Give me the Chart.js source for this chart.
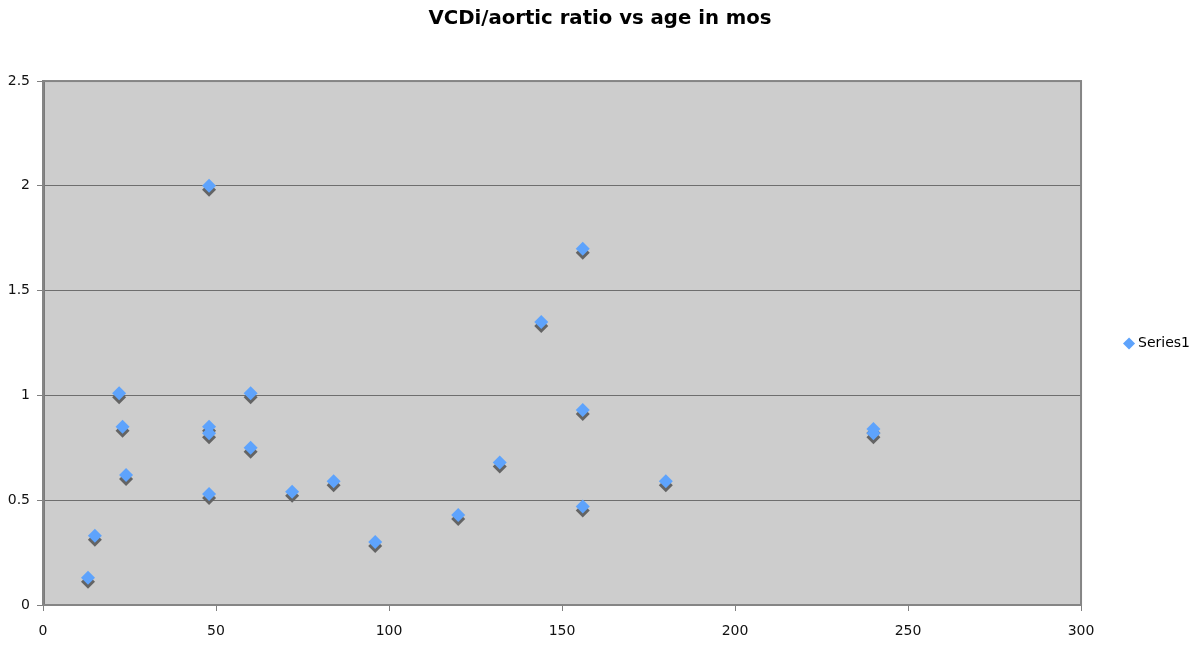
<!DOCTYPE html>
<html>
<head>
<meta charset="utf-8">
<script src="https://cdn.jsdelivr.net/npm/chart.js@4.4.0/dist/chart.umd.min.js"></script>
<style>
  html, body { margin: 0; padding: 0; background: #ffffff; }
  #wrap { width: 1200px; height: 645px; }
</style>
</head>
<body>
<div id="wrap"><canvas id="c" width="1200" height="645"></canvas></div>
<script>
const chartTitle = 'VCDi/aortic ratio vs age in mos';
const seriesName = 'Series1';
const ageMonths = [13, 15, 22, 23, 24, 48, 48, 48, 48, 60, 60, 72, 84, 96, 120, 132, 144, 156, 156, 156, 180, 240, 240];
const vcdiRatio = [0.13, 0.33, 1.01, 0.85, 0.62, 2.0, 0.85, 0.82, 0.53, 1.01, 0.75, 0.54, 0.59, 0.30, 0.43, 0.68, 1.35, 1.70, 0.93, 0.47, 0.59, 0.84, 0.82];
const xTickRange = [0, 300, 50];
const yTickRange = [0, 2.5, 0.5];

const points = ageMonths.map((a, i) => ({ x: a, y: vcdiRatio[i] }));

const plotArea = {
  id: 'plotArea',
  beforeDraw(chart) {
    const { ctx, chartArea: a } = chart;
    ctx.save();
    ctx.fillStyle = '#cdcdcd';
    ctx.fillRect(a.left, a.top, a.right - a.left, a.bottom - a.top);
    ctx.restore();
  },
  beforeDatasetsDraw(chart) {
    const { ctx, chartArea: a } = chart;
    ctx.save();
    ctx.strokeStyle = '#858585';
    ctx.lineWidth = 2;
    ctx.strokeRect(a.left, a.top, a.right - a.left, a.bottom - a.top);
    ctx.restore();
  }
};

const shadow = {
  id: 'markerShadow',
  beforeDatasetDraw(chart) {
    const ctx = chart.ctx;
    ctx.save();
    ctx.shadowColor = 'rgba(100,100,100,1)';
    ctx.shadowOffsetX = 0;
    ctx.shadowOffsetY = 4;
    ctx.shadowBlur = 0;
  },
  afterDatasetDraw(chart) {
    chart.ctx.restore();
  }
};

const tickFont = { family: '"DejaVu Sans", Verdana, sans-serif', size: 14 };

new Chart(document.getElementById('c'), {
  type: 'scatter',
  data: {
    datasets: [{
      label: seriesName,
      data: points,
      pointStyle: 'rectRot',
      pointRadius: 7,
      pointHoverRadius: 7,
      backgroundColor: '#5ea3fc',
      borderColor: '#5ea3fc',
      borderWidth: 0
    }]
  },
  options: {
    responsive: false,
    animation: false,
    layout: { padding: 0 },
    scales: {
      x: {
        type: 'linear',
        min: xTickRange[0], max: xTickRange[1],
        ticks: { stepSize: xTickRange[2], color: '#111', font: tickFont, padding: 12, maxRotation: 0 },
        grid: { drawOnChartArea: false, drawTicks: true, tickLength: 6, tickColor: '#808080', tickWidth: 1 },
        border: { display: true, color: '#808080', width: 2 },
        afterFit(s) { s.height = 40; }
      },
      y: {
        type: 'linear',
        min: yTickRange[0], max: yTickRange[1],
        ticks: { stepSize: yTickRange[2], color: '#111', font: tickFont, padding: 7, callback: (v) => String(v) },
        grid: { color: '#6e6e6e', lineWidth: 1, drawTicks: true, tickLength: 6, tickColor: '#808080' },
        border: { display: true, color: '#7a7a7a', width: 3 },
        afterFit(s) { s.width = 43; }
      }
    },
    plugins: {
      title: {
        display: true,
        text: chartTitle,
        color: '#000',
        font: { family: '"DejaVu Sans", Verdana, sans-serif', size: 19.7, weight: 'bold' },
        padding: { top: 7, bottom: 50.4 }
      },
      legend: {
        display: true,
        position: 'right',
        title: {
          display: true,
          text: ' ',
          font: { size: 10 },
          padding: { top: 15, bottom: 15 }
        },
        labels: {
          usePointStyle: true,
          pointStyle: 'rectRot',
          boxWidth: 4,
          boxHeight: 8.5,
          padding: 46,
          color: '#000',
          font: { family: '"DejaVu Sans", Verdana, sans-serif', size: 14 }
        }
      },
      tooltip: { enabled: false }
    }
  },
  plugins: [plotArea, shadow]
});
</script>
</body>
</html>
